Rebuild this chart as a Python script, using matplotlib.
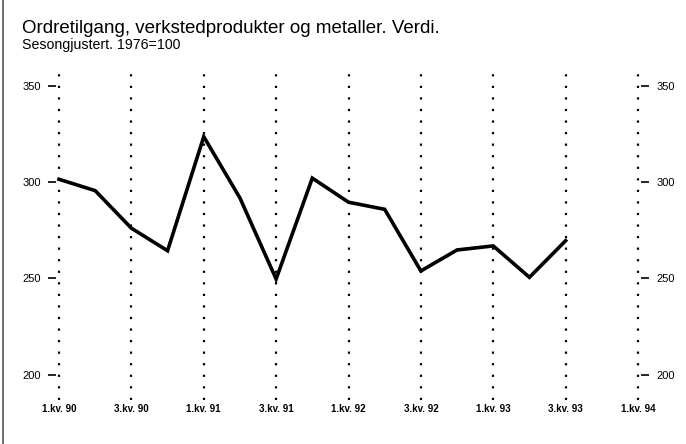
import matplotlib
matplotlib.use("Agg")
import matplotlib.pyplot as plt
from matplotlib.lines import Line2D

plt.rcParams['font.family'] = ['Liberation Sans', 'DejaVu Sans']

# kvartalsdata, 1.kv. 90 - 3.kv. 93
kvartal = list(range(15))
verdi = [301.4, 295.5, 276.0, 264.3, 323.5, 291.7, 249.6, 302.0,
         289.5, 285.8, 253.8, 264.7, 266.8, 250.5, 269.5]

tick_pos = [0, 2, 4, 6, 8, 10, 12, 14, 16]
tick_lab = ["1.kv. 90", "3.kv. 90", "1.kv. 91", "3.kv. 91", "1.kv. 92",
            "3.kv. 92", "1.kv. 93", "3.kv. 93", "1.kv. 94"]
y_ticks = [200, 250, 300, 350]

W, H = 686, 444
fig = plt.figure(figsize=(W / 100, H / 100), dpi=100)

x0, x1 = 56, 641
y_top, y_bot = 72, 400
ax = fig.add_axes([x0 / W, 1 - y_bot / H, (x1 - x0) / W, (y_bot - y_top) / H])

px_q = (638 - 59) / 16
ax.set_xlim(-(59 - x0) / px_q, 16 + (x1 - 638) / px_q)
ax.set_ylim(186.8, 357.1)

for x in tick_pos:
    ax.axvline(x, color='black', lw=1.6, linestyle=(0, (1, 4.2)), zorder=1)

ax.plot(kvartal, verdi, color='black', lw=2.6, solid_joinstyle='miter', zorder=3)

for s in ax.spines.values():
    s.set_visible(False)

ax.set_xticks(tick_pos)
ax.set_xticklabels(tick_lab, fontsize=7, fontweight='bold')
ax.tick_params(axis='x', length=0, pad=3)

ax.set_yticks(y_ticks)
ax.tick_params(axis='y', which='both', direction='out', length=6, width=1.2,
               labelsize=8, pad=5, left=True, right=True,
               labelleft=True, labelright=True)

fig.text(22 / W, 1 - 33 / H, "Ordretilgang, verkstedprodukter og metaller. Verdi.",
         fontsize=13.5, va='baseline', ha='left')
fig.text(22 / W, 1 - 49 / H, "Sesongjustert. 1976=100",
         fontsize=10.2, va='baseline', ha='left')

fig.add_artist(Line2D([2.5 / W, 2.5 / W], [0, 1], color='#555555', lw=1.2,
                      transform=fig.transFigure))

fig.savefig("out.png", dpi=100)
